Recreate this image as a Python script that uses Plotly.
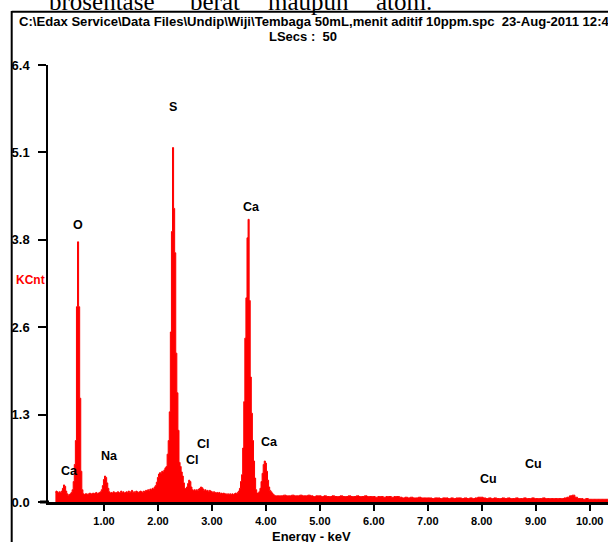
import plotly.graph_objects as go

# ---------------- data ----------------
kev_low = [0.10,0.12,0.14,0.16,0.18,0.20,0.22,0.24,0.26,0.28,
           0.30,0.32,0.34,0.36,0.38,0.40,0.42,0.44,0.46,0.48,
           0.50,0.52,0.54,0.56,0.58,0.60,0.62,0.64,0.66,0.68,
           0.70,0.72,0.74,0.76,0.78,0.80,0.82,0.84,0.86,0.88,
           0.90,0.92,0.94,0.96,0.98,1.00,1.02,1.04,1.06,1.08,
           1.10,1.12,1.14,1.16,1.18,1.20,1.22,1.24,1.26,1.28,
           1.30,1.32,1.34,1.36,1.38,1.40,1.42,1.44,1.46,1.48,
           1.50,1.52,1.54,1.56,1.58,1.60,1.62,1.64,1.66,1.68,
           1.70,1.72,1.74,1.76,1.78,1.80,1.82,1.84,1.86,1.88,
           1.90,1.92,1.94,1.96,1.98,2.00,2.02,2.04,2.06,2.08,
           2.10,2.12,2.14,2.16,2.18,2.20,2.22,2.24,2.26,2.28,
           2.30,2.32,2.34,2.36,2.38,2.40,2.42,2.44,2.46,2.48,
           2.50,2.52,2.54,2.56,2.58,2.60,2.62,2.64,2.66,2.68,
           2.70,2.72,2.74,2.76,2.78,2.80,2.82,2.84,2.86,2.88,
           2.90,2.92,2.94,2.96,2.98,3.00,3.02,3.04,3.06,3.08,
           3.10,3.12,3.14,3.16,3.18,3.20,3.22,3.24,3.26,3.28,
           3.30,3.32,3.34,3.36,3.38,3.40,3.42,3.44,3.46,3.48,
           3.50,3.52,3.54,3.56,3.58,3.60,3.62,3.64,3.66,3.68,
           3.70,3.72,3.74,3.76,3.78,3.80,3.82,3.84,3.86,3.88,
           3.90,3.92,3.94,3.96,3.98,4.00,4.02,4.04,4.06,4.08,
           4.10,4.12,4.14,4.16,4.18,4.20]
kcnt_low = [0.14,0.16,0.15,0.13,0.15,0.14,0.16,0.20,0.25,0.23,
            0.16,0.12,0.10,0.11,0.12,0.14,0.18,0.30,0.55,0.90,
            2.86,3.81,2.86,1.52,0.45,0.18,0.12,0.11,0.12,0.12,
            0.11,0.12,0.13,0.12,0.12,0.13,0.12,0.13,0.14,0.12,
            0.13,0.14,0.15,0.18,0.24,0.33,0.38,0.36,0.28,0.20,
            0.15,0.13,0.14,0.13,0.15,0.14,0.13,0.14,0.15,0.13,
            0.14,0.16,0.14,0.15,0.13,0.14,0.15,0.14,0.16,0.14,
            0.15,0.17,0.14,0.15,0.14,0.16,0.15,0.14,0.15,0.16,
            0.15,0.14,0.16,0.15,0.17,0.16,0.18,0.16,0.19,0.18,
            0.20,0.19,0.22,0.24,0.29,0.36,0.41,0.43,0.42,0.45,
            0.44,0.47,0.50,0.52,0.70,0.90,1.32,2.49,3.96,5.19,
            4.30,3.65,2.18,1.60,1.05,0.58,0.52,0.44,0.38,0.28,
            0.20,0.19,0.22,0.27,0.32,0.30,0.22,0.18,0.17,0.18,
            0.16,0.18,0.17,0.19,0.20,0.22,0.21,0.19,0.17,0.18,
            0.16,0.17,0.15,0.17,0.16,0.15,0.14,0.15,0.14,0.13,
            0.14,0.13,0.14,0.12,0.13,0.12,0.13,0.12,0.12,0.11,
            0.12,0.11,0.12,0.11,0.12,0.11,0.12,0.13,0.12,0.14,
            0.16,0.20,0.30,0.40,0.79,1.47,2.40,2.99,3.87,4.14,
            2.95,1.83,1.30,0.90,0.60,0.35,0.18,0.13,0.13,0.15,
            0.20,0.30,0.42,0.55,0.60,0.57,0.45,0.32,0.22,0.17,
            0.15,0.13,0.11,0.10,0.09,0.09]

kev_high = [4.25,4.30,4.35,4.40,4.45,4.50,4.55,4.60,4.65,4.70,
            4.75,4.80,4.85,4.90,4.95,5.00,5.05,5.10,5.15,5.20,
            5.25,5.30,5.35,5.40,5.45,5.50,5.55,5.60,5.65,5.70,
            5.75,5.80,5.85,5.90,5.95,6.00,6.05,6.10,6.15,6.20,
            6.25,6.30,6.35,6.40,6.45,6.50,6.55,6.60,6.65,6.70,
            6.75,6.80,6.85,6.90,6.95,7.00,7.05,7.10,7.15,7.20,
            7.25,7.30,7.35,7.40,7.45,7.50,7.55,7.60,7.65,7.70,
            7.75,7.80,7.85,7.90,7.95,8.00,8.05,8.10,8.15,8.20,
            8.25,8.30,8.35,8.40,8.45,8.50,8.55,8.60,8.65,8.70,
            8.75,8.80,8.85,8.90,8.95,9.00,9.05,9.10,9.15,9.20,
            9.25,9.30,9.35,9.40,9.45,9.50,9.55,9.60,9.65,9.70,
            9.75,9.80,9.85,9.90,9.95,10.00,10.05,10.10,10.15,10.20,
            10.25,10.30,10.35]
kcnt_high = [0.09,0.09,0.10,0.09,0.09,0.10,0.09,0.09,0.10,0.09,
             0.09,0.10,0.09,0.08,0.09,0.09,0.08,0.09,0.08,0.08,
             0.09,0.08,0.08,0.09,0.08,0.08,0.09,0.08,0.08,0.09,
             0.08,0.08,0.09,0.08,0.08,0.08,0.07,0.08,0.08,0.07,
             0.08,0.08,0.07,0.08,0.08,0.07,0.06,0.07,0.06,0.07,
             0.06,0.06,0.07,0.06,0.06,0.06,0.06,0.05,0.06,0.06,
             0.05,0.06,0.06,0.05,0.06,0.05,0.06,0.06,0.05,0.06,
             0.05,0.06,0.05,0.06,0.07,0.07,0.06,0.05,0.06,0.05,
             0.06,0.05,0.05,0.06,0.05,0.06,0.05,0.05,0.06,0.05,
             0.05,0.06,0.05,0.05,0.06,0.05,0.05,0.05,0.06,0.05,
             0.05,0.05,0.05,0.05,0.05,0.05,0.06,0.07,0.09,0.10,
             0.07,0.05,0.05,0.04,0.05,0.04,0.04,0.04,0.04,0.04,
             0.04,0.04,0.04]

x_tick_vals = [1, 2, 3, 4, 5, 6, 7, 8, 9, 10]
x_tick_text = ["1.00", "2.00", "3.00", "4.00", "5.00", "6.00", "7.00", "8.00", "9.00", "10.00"]
y_tick_vals = [0, 1.28, 2.56, 3.84, 5.12, 6.4]
y_tick_text = ["0.0", "1.3", "2.6", "3.8", "5.1", "6.4"]

peak_names = ["O", "S", "Ca", "Na", "Ca", "Cl", "Cl", "Ca", "Cu", "Cu"]
peak_kev = [0.52, 2.285, 3.74, 1.10, 0.37, 2.84, 2.645, 4.06, 8.12, 8.96]
peak_kcnt = [4.06, 5.78, 4.32, 0.68, 0.45, 0.85, 0.615, 0.88, 0.33, 0.55]

header_text = "C:\\Edax Service\\Data Files\\Undip\\Wiji\\Tembaga 50mL,menit aditif 10ppm.spc  23-Aug-2011 12:45"
lsecs_text = "LSecs :  50"
doc_words = ["brosentase", "berat", "maupun", "atom."]
doc_word_px = [47, 188, 266, 374]

# ---------------- layout geometry ----------------
W, H = 608, 542
L, R, T, B = 48, 608, 65, 502
PW, PH = R - L, B - T


def px(x):
    return (x - L) / PW


def py(y):
    return (B - y) / PH


SANS = "Liberation Sans, Arial, sans-serif"

fig = go.Figure()
fig.add_trace(go.Scatter(
    x=kev_low + kev_high, y=kcnt_low + kcnt_high,
    mode="lines", line=dict(color="#ff0000", width=1, shape="hvh"),
    fill="tozeroy", fillcolor="#ff0000", hoverinfo="skip", showlegend=False,
))

annotations = []
for name, xk, yk in zip(peak_names, peak_kev, peak_kcnt):
    annotations.append(dict(x=xk, y=yk, xref="x", yref="y", text="<b>%s</b>" % name,
                            showarrow=False, font=dict(family=SANS, size=12.5, color="black"),
                            xanchor="center", yanchor="middle"))

annotations.append(dict(x=px(17), y=py(22), xref="paper", yref="paper",
                        text="<b>%s</b>" % header_text, showarrow=False,
                        font=dict(family=SANS, size=13.1, color="black"),
                        xanchor="left", yanchor="middle"))
annotations.append(dict(x=px(303), y=py(37), xref="paper", yref="paper",
                        text="<b>%s</b>" % lsecs_text, showarrow=False,
                        font=dict(family=SANS, size=13, color="black"),
                        xanchor="center", yanchor="middle"))
annotations.append(dict(x=px(14), y=py(280), xref="paper", yref="paper",
                        text="<b>KCnt</b>", showarrow=False,
                        font=dict(family=SANS, size=12, color="#ff0000"),
                        xanchor="left", yanchor="middle"))
annotations.append(dict(x=px(311.7), y=py(536), xref="paper", yref="paper",
                        text="<b>Energy - keV</b>", showarrow=False,
                        font=dict(family=SANS, size=13, color="black"),
                        xanchor="center", yanchor="middle", borderpad=0))
for word, wx in zip(doc_words, doc_word_px):
    annotations.append(dict(x=px(wx), y=py(2), xref="paper", yref="paper",
                            text=word, showarrow=False,
                            font=dict(family="Liberation Serif, Times New Roman, serif", size=25, color="black"),
                            xanchor="left", yanchor="middle"))

shapes = [
    dict(type="line", xref="paper", yref="paper", x0=px(11.7), x1=px(640), y0=py(11.7), y1=py(11.7),
         line=dict(color="black", width=2)),
    dict(type="line", xref="paper", yref="paper", x0=px(11.7), x1=px(11.7), y0=py(11.0), y1=py(560),
         line=dict(color="black", width=2)),
    dict(type="line", xref="paper", yref="paper", x0=px(40), x1=px(49), y0=0, y1=0,
         line=dict(color="black", width=3)),
]

fig.update_layout(
    width=W, height=H,
    margin=dict(l=L, r=W - R, t=T, b=H - B, pad=0),
    paper_bgcolor="white", plot_bgcolor="white",
    showlegend=False,
    annotations=annotations, shapes=shapes,
    xaxis=dict(range=[-0.037, 10.339], showline=True, linecolor="black", linewidth=3,
               ticks="outside", ticklen=6, tickwidth=1.5, tickcolor="black",
               tickvals=x_tick_vals, ticktext=["<b>%s</b>" % t for t in x_tick_text],
               tickfont=dict(family=SANS, size=11, color="black"),
               showgrid=False, zeroline=False, fixedrange=True, ticklabelstandoff=1),
    yaxis=dict(range=[0, 6.4], showline=True, linecolor="black", linewidth=1.5,
               ticks="outside", ticklen=8, tickwidth=1.5, tickcolor="black",
               tickvals=y_tick_vals, ticktext=["<b>%s</b>" % t for t in y_tick_text],
               tickfont=dict(family=SANS, size=13, color="black"),
               showgrid=False, zeroline=False, fixedrange=True, ticklabelstandoff=6),
)

# remove the page's default 8px body margin so the figure sits at the window's corner
fig.write_html("out.html", config={"displayModeBar": False},
               post_script="document.body.style.margin='0';document.body.style.overflow='hidden';")
